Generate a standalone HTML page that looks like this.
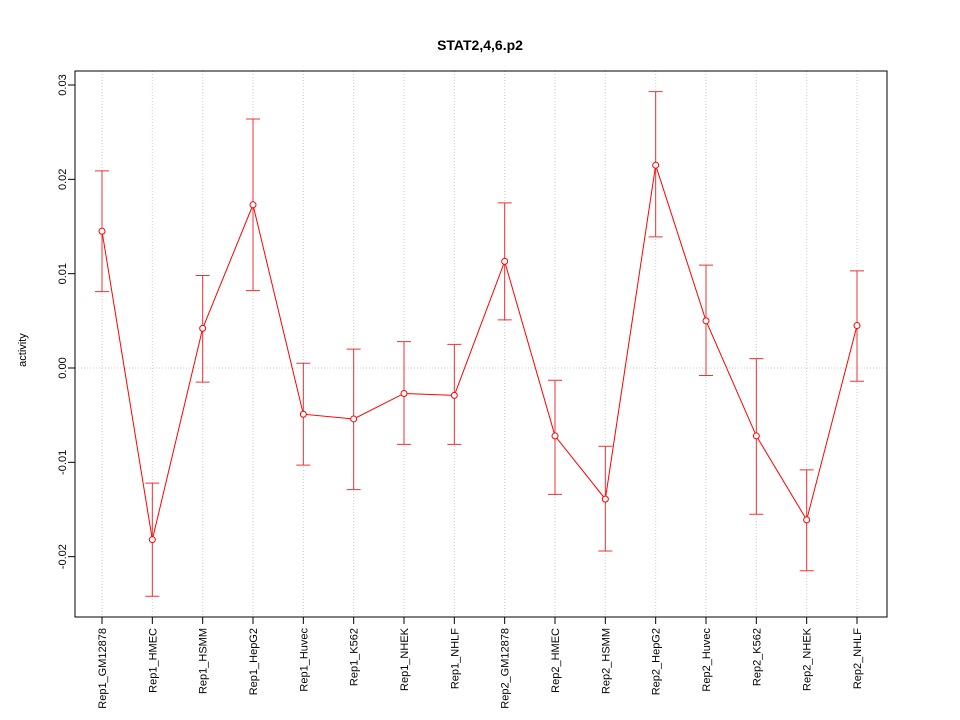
<!DOCTYPE html>
<html><head><meta charset="utf-8"><style>body{margin:0;background:#fff}svg{display:block;font-family:"Liberation Sans",sans-serif}</style></head>
<body>
<svg id="chart" width="960" height="720">
<rect x="0" y="0" width="960" height="720" fill="#fff"/>
<text x="480" y="50" text-anchor="middle" font-weight="bold" font-size="14">STAT2,4,6.p2</text>
<text transform="translate(26,350) rotate(-90)" text-anchor="middle" font-size="11">activity</text>
<g id="grid"></g><g id="axes"></g><g id="marks"></g>
<rect x="75" y="71" width="812" height="546" fill="none" stroke="#000"/>
</svg>
<script>
const categories=["Rep1_GM12878","Rep1_HMEC","Rep1_HSMM","Rep1_HepG2","Rep1_Huvec","Rep1_K562","Rep1_NHEK","Rep1_NHLF","Rep2_GM12878","Rep2_HMEC","Rep2_HSMM","Rep2_HepG2","Rep2_Huvec","Rep2_K562","Rep2_NHEK","Rep2_NHLF"];
const values=[0.0145,-0.0182,0.0042,0.0173,-0.0049,-0.0054,-0.0027,-0.0029,0.0113,-0.0072,-0.0139,0.0215,0.0050,-0.0072,-0.0161,0.0045];
const upper=[0.0209,-0.0122,0.0098,0.0264,0.0005,0.0020,0.0028,0.0025,0.0175,-0.0013,-0.0083,0.0293,0.0109,0.0010,-0.0108,0.0103];
const lower=[0.0081,-0.0242,-0.0015,0.0082,-0.0103,-0.0129,-0.0081,-0.0081,0.0051,-0.0134,-0.0194,0.0139,-0.0008,-0.0155,-0.0215,-0.0014];
const yTicks=[-0.02,-0.01,0,0.01,0.02,0.03];
const yTickLabels=["-0.02","-0.01","0.00","0.01","0.02","0.03"];
const NS="http://www.w3.org/2000/svg";
const xs=i=>102+i*(857-102)/(categories.length-1);
const ys=v=>368-v*9433;
function mk(tag,attrs,parent){const e=document.createElementNS(NS,tag);for(const k in attrs)e.setAttribute(k,attrs[k]);document.getElementById(parent).appendChild(e);return e;}
categories.forEach((c,i)=>{
 const g=mk("line",{x1:xs(i),x2:xs(i),y1:71,y2:617,stroke:"#ccc","stroke-dasharray":"1,2"},"grid");
 
 
 const t=mk("line",{x1:xs(i),x2:xs(i),y1:617,y2:624,stroke:"#000"},"axes");
 
 
 const l=mk("text",{transform:`translate(${xs(i)+4},628) rotate(-90)`,"text-anchor":"end","font-size":"11"},"axes");
 l.textContent=c;
 
 
});
const h=mk("line",{x1:75,x2:887,y1:ys(0),y2:ys(0),stroke:"#ccc","stroke-dasharray":"1,2"},"grid");


mk("line",{x1:75,x2:75,y1:ys(-0.02),y2:ys(0.03),stroke:"#000"},"axes");
yTicks.forEach((v,i)=>{
 const t=mk("line",{x1:68,x2:75,y1:ys(v),y2:ys(v),stroke:"#000"},"axes");
 
 
 const l=mk("text",{transform:`translate(66,${ys(v)}) rotate(-90)`,"text-anchor":"middle","font-size":"11"},"axes");
 l.textContent=yTickLabels[i];
 
 
});
values.forEach((v,i)=>{
 const x=xs(i);
 const e=mk("path",{d:`M${x},${ys(upper[i])}V${ys(lower[i])}M${x-7},${ys(upper[i])}H${x+7}M${x-7},${ys(lower[i])}H${x+7}`,stroke:"#e33",fill:"none"},"marks");
 
 
});
const line=mk("polyline",{points:values.map((v,i)=>xs(i)+","+ys(v)).join(" "),fill:"none",stroke:"#f00"},"marks");


values.forEach((v,i)=>{
 const c=mk("circle",{cx:xs(i),cy:ys(v),r:3,fill:"#fff",stroke:"#f00"},"marks");
 
 
});
</script>
</body></html>
